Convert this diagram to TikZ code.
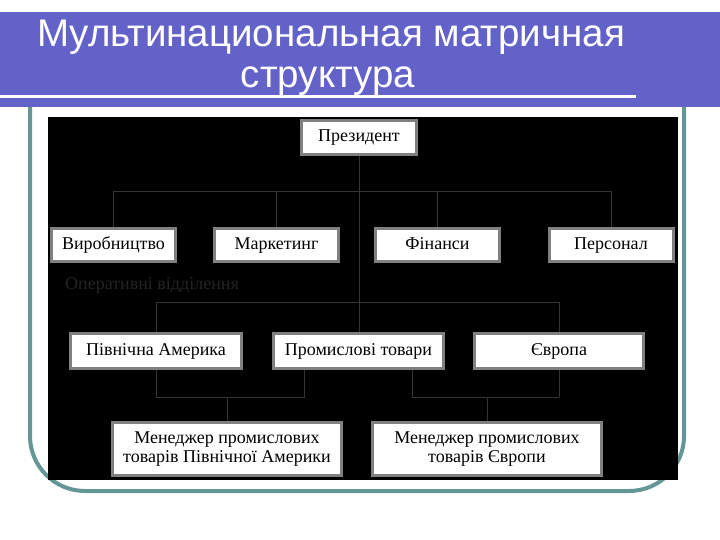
\documentclass[tikz,border=0pt]{standalone}
\usepackage{fontspec}
\setmainfont{Liberation Serif}
\newfontfamily\titlefont{Liberation Sans}
\definecolor{bannerblue}{RGB}{98,98,200}
\definecolor{frameteal}{RGB}{100,150,150}
\definecolor{boxgray}{RGB}{128,128,128}
\definecolor{linegray}{RGB}{52,52,52}
\definecolor{dimtext}{RGB}{36,36,36}
\pgfdeclarelayer{bg}
\pgfdeclarelayer{lines}
\pgfsetlayers{bg,lines,main}
\begin{document}
\begin{tikzpicture}[x=1pt,y=-1pt,
  orgbox/.style={draw=boxgray, line width=3pt, fill=white, inner sep=0pt, align=center,
    font=\fontsize{18}{19}\selectfont},
  onebox/.style={orgbox, text height=12.5pt, text depth=4pt},
  conn/.style={draw=linegray, line width=1pt},
  titletext/.style={text=white, anchor=base, inner sep=0pt, font=\titlefont\fontsize{38.5}{40}\selectfont}]
\useasboundingbox (0,0) rectangle (720,540);
\begin{pgfonlayer}{bg}
  \fill[white] (0,0) rectangle (720,540);
  \draw[frameteal, line width=4pt, rounded corners=55pt] (30,100) -- (30,491) -- (684,491) -- (684,100);
  \fill[black] (48,117) rectangle (678,480);
  \fill[bannerblue] (0,12) rectangle (720,107);
  \fill[white] (0,95) rectangle (636,98);
\end{pgfonlayer}
\node[titletext] (t1) at (331,47) {Мультинациональная матричная};
\node[titletext] (t2) at (328,88) {структура};
% level 1
\node[onebox, minimum width=115pt, minimum height=34pt] (pres) at (359,137.5) {Президент};
\node[onebox, minimum width=124pt, minimum height=33pt] (vyr) at (113.5,245) {Виробництво};
\node[onebox, minimum width=124pt, minimum height=33pt] (mark) at (276.5,245) {Маркетинг};
\node[onebox, minimum width=124pt, minimum height=33pt] (fin) at (437.5,245) {Фінанси};
\node[onebox, minimum width=124pt, minimum height=33pt] (pers) at (611,245) {Персонал};
\node[text=dimtext, anchor=base west, inner sep=0pt, font=\fontsize{18}{19}\selectfont] (op) at (65,289) {Оперативні відділення};
% level 2
\node[onebox, minimum width=171pt, minimum height=35pt] (pna) at (156,351) {Північна Америка};
\node[onebox, minimum width=170pt, minimum height=35pt] (prom) at (358.5,351) {Промислові товари};
\node[onebox, minimum width=169pt, minimum height=35pt] (evr) at (559,351) {Європа};
% level 3
\node[orgbox, minimum width=229pt, minimum height=53pt] (m1) at (227,449) {Менеджер промислових\\товарів Північної Америки};
\node[orgbox, minimum width=229pt, minimum height=53pt] (m2) at (487,449) {Менеджер промислових\\товарів Європи};
% connectors
\coordinate (busA) at (0,192);
\coordinate (busB) at (0,302);
\coordinate (busC) at (0,397);
\coordinate (pl) at (304,0);
\coordinate (pr) at (412,0);
\begin{pgfonlayer}{lines}
  \draw[conn] (pres.south) -- (pres.south |- prom.north);
  \draw[conn] (vyr.north) -- (vyr.north |- busA) -- (pers.north |- busA) -- (pers.north);
  \draw[conn] (mark.north) -- (mark.north |- busA);
  \draw[conn] (fin.north) -- (fin.north |- busA);
  \draw[conn] (pna.center |- busB) -- (evr.center |- busB);
  \draw[conn] (pna.center |- busB) -- (pna.center |- busC);
  \draw[conn] (evr.center |- busB) -- (evr.center |- busC);
  \draw[conn] (pl |- prom.south) -- (pl |- busC) -- (pna.center |- busC);
  \draw[conn] (pr |- prom.south) -- (pr |- busC) -- (evr.center |- busC);
  \draw[conn] (m1.north) -- (m1.north |- busC);
  \draw[conn] (m2.north) -- (m2.north |- busC);
\end{pgfonlayer}
\end{tikzpicture}
\end{document}
